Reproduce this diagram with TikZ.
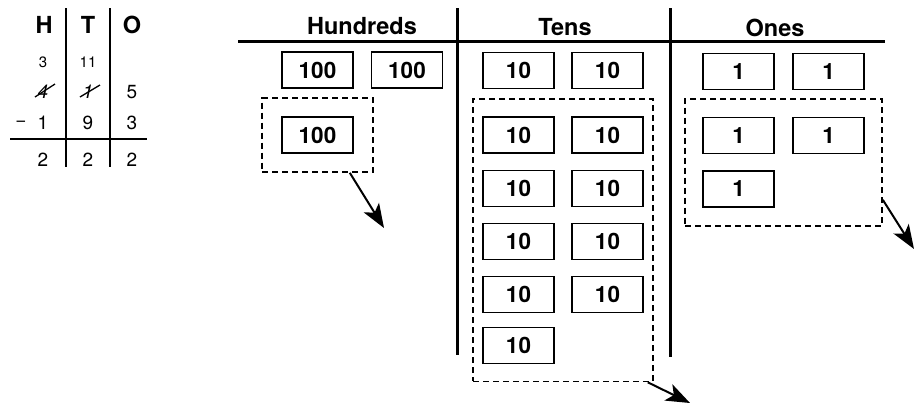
\documentclass[tikz,border=0pt]{standalone}
\usepackage{fontspec}
\setmainfont{TeX Gyre Heros}
\usetikzlibrary{arrows.meta, positioning, fit, calc}

\begin{document}
\begin{tikzpicture}[
    x=1pt, y=-1pt,
    block/.style={draw, line width=1.8pt, minimum width=71pt, minimum height=36pt, inner sep=0pt, font=\fontsize{22.5}{26}\selectfont\bfseries},
    group/.style={draw, dash pattern=on 6pt off 4pt, line width=1.8pt},
    heading/.style={font=\fontsize{23.5}{28}\selectfont\bfseries, inner sep=0pt},
    digit/.style={font=\fontsize{19}{22}\selectfont, inner sep=0pt},
    carry/.style={font=\fontsize{15}{18}\selectfont, inner sep=0pt},
    rule/.style={line width=1.6pt},
    column/.style={line width=3pt},
    arrow/.style={-{Stealth[length=24pt, width=18pt, inset=6pt]}, line width=2pt}
]
\useasboundingbox (0,0) rectangle (916,405);

% Written subtraction
\node[heading] (colH) at (44,25) {H};
\node[heading] (colT) at (88,25) {T};
\node[heading] (colO) at (132,25) {O};
\draw[rule] (66,8) -- (66,167);
\draw[rule] (110,8) -- (110,167);
\draw[rule] (10,139) -- (147,139);

\node[carry] (carryH) at (43,62) {3};
\node[carry] (carryT) at (88,62) {11};

\node[digit, font=\fontsize{19}{22}\selectfont\itshape] (topH) at (43,92) {4};
\node[digit, font=\fontsize{19}{22}\selectfont\itshape] (topT) at (88,92) {1};
\node[digit] (topO) at (132,92) {5};
\draw[line width=1.3pt] ($(topH.center)+(-8,5)$) -- ($(topH.center)+(12,-8)$);
\draw[line width=1.3pt] ($(topT.center)+(-8,5)$) -- ($(topT.center)+(12,-7)$);

\node[digit] (minus) at (21,124) {−};
\node[digit] (subH) at (43,123) {1};
\node[digit] (subT) at (88,123) {9};
\node[digit] (subO) at (132,123) {3};

\node[digit] (resH) at (43,160) {2};
\node[digit] (resT) at (88,160) {2};
\node[digit] (resO) at (132,160) {2};

% Place value chart
\node[heading] (hundreds) at (362,26) {Hundreds};
\node[heading] (tens) at (565,27) {Tens};
\node[heading] (ones) at (775,28) {Ones};
\draw[column] (238,41) -- (885,41);
\draw[column] (457,8) -- (457,355);
\draw[column] (670,8) -- (670,357);

% Hundreds
\node[block] (h1) at (317.5,70) {100};
\node[block] (h2) at (407,70) {100};
\node[block] (h3) at (317.5,135) {100};

% Tens
\node[block] (t1) at (518.5,70.5) {10};
\node[block] (t2) at (607.5,70.5) {10};
\node[block] (t3) at (518.5,135) {10};
\node[block] (t4) at (607.5,135) {10};
\node[block] (t5) at (518.5,188.5) {10};
\node[block] (t6) at (607.5,188.5) {10};
\node[block] (t7) at (518.5,241.5) {10};
\node[block] (t8) at (607.5,241.5) {10};
\node[block] (t9) at (518.5,294.5) {10};
\node[block] (t10) at (607.5,294.5) {10};
\node[block] (t11) at (518.5,345.5) {10};

% Ones
\node[block] (o1) at (738.5,71.5) {1};
\node[block] (o2) at (828.5,71.5) {1};
\node[block] (o3) at (738.5,135.5) {1};
\node[block] (o4) at (828.5,135.5) {1};
\node[block] (o5) at (738.5,189) {1};

% Groups taken away
\node[group, fit=(h3), inner xsep=19pt, inner ysep=18pt] (hgroup) {};
\node[group, fit=(t3) (t4) (t11), inner xsep=9pt, inner ysep=17pt] (tgroup) {};
\node[group, fit=(o3) (o4) (o5), inner xsep=17pt, inner ysep=18pt] (ogroup) {};

\coordinate (hout) at (384,228);
\coordinate (tout) at (690,403);
\coordinate (oout) at (914,249);

\draw[arrow] ([xshift=-24pt]hgroup.south east) -- (hout);
\draw[arrow] ([xshift=-6pt]tgroup.south east) -- (tout);
\draw[arrow] ([yshift=27pt]ogroup.south east) -- (oout);

\end{tikzpicture}
\end{document}
